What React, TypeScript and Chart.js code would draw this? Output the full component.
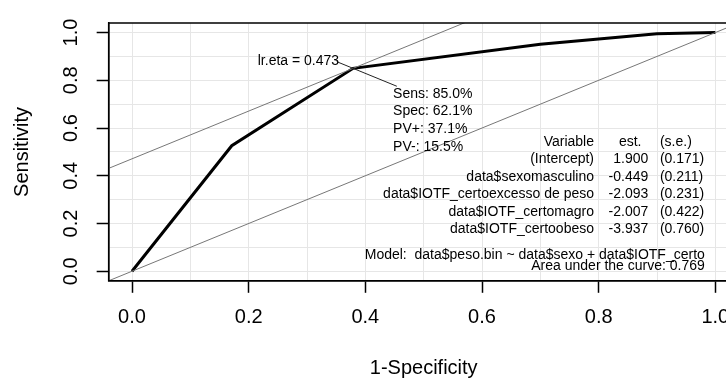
import React, { useEffect, useRef } from "react";
import { Chart, registerables } from "chart.js";

Chart.register(...registerables);

// ---- data ----
const rocFpr = [0, 0.171, 0.379, 0.7, 0.9, 1.0]; // 1-Specificity
const rocTpr = [0, 0.526, 0.85, 0.951, 0.995, 1.0]; // Sensitivity
const optSens = 0.85;
const optSpec = 0.621;
const optPVpos = 0.371;
const optPVneg = 0.155;
const lrEta = 0.473;
const auc = 0.769;
const variableNames = [
  "(Intercept)",
  "data$sexomasculino",
  "data$IOTF_certoexcesso de peso",
  "data$IOTF_certomagro",
  "data$IOTF_certoobeso",
];
const estimates = [1.9, -0.449, -2.093, -2.007, -3.937];
const stdErrors = [0.171, 0.211, 0.231, 0.422, 0.76];
const modelText = "Model:  data$peso.bin ~ data$sexo + data$IOTF_certo";
const xTitle = "1-Specificity";
const yTitle = "Sensitivity";
const axisMin = -0.04;
const axisMax = 1.04;

const FONT = "'Liberation Sans', Arial, Helvetica, sans-serif";

const annotPlugin = {
  id: "rocAnnot",
  afterDatasetsDraw(chart: any) {
    const { ctx, chartArea } = chart;
    const x = chart.scales.x;
    const y = chart.scales.y;
    const ox = 1 - optSpec;
    const px = x.getPixelForValue(ox);
    const py = y.getPixelForValue(optSens);
    ctx.save();
    // pointer line
    ctx.strokeStyle = "#222";
    ctx.lineWidth = 1;
    ctx.beginPath();
    ctx.moveTo(x.getPixelForValue(ox - 0.028), y.getPixelForValue(optSens + 0.028));
    ctx.lineTo(x.getPixelForValue(ox + 0.075), y.getPixelForValue(optSens - 0.075));
    ctx.stroke();

    ctx.font = `14px ${FONT}`;
    ctx.fillStyle = "#000";
    ctx.textBaseline = "middle";
    ctx.textAlign = "right";
    ctx.fillText(`lr.eta = ${lrEta.toFixed(3)}`, px - 14, py - 7.5);
    ctx.textAlign = "left";
    const optLines = [
      `Sens: ${(optSens * 100).toFixed(1)}%`,
      `Spec: ${(optSpec * 100).toFixed(1)}%`,
      `PV+: ${(optPVpos * 100).toFixed(1)}%`,
      `PV-: ${(optPVneg * 100).toFixed(1)}%`,
    ];
    optLines.forEach((t, i) => ctx.fillText(t, px + 40, py + 25.5 + i * 17.7));

    // coefficient table
    const varRight = x.getPixelForValue(0.792);
    const estRight = x.getPixelForValue(0.885);
    const estHead = x.getPixelForValue(0.854);
    const seLeft = x.getPixelForValue(0.905);
    const modelRight = x.getPixelForValue(0.982);
    const headY = y.getPixelForValue(0.542);
    const step = 17.5;
    ctx.textAlign = "right";
    ctx.fillText("Variable", varRight, headY);
    ctx.textAlign = "center";
    ctx.fillText("est.", estHead, headY);
    ctx.textAlign = "left";
    ctx.fillText("(s.e.)", seLeft, headY);
    variableNames.forEach((v, i) => {
      const ry = headY + (i + 1) * step;
      ctx.textAlign = "right";
      ctx.fillText(v, varRight, ry);
      ctx.fillText(estimates[i].toFixed(3), estRight, ry);
      ctx.textAlign = "left";
      ctx.fillText(`(${stdErrors[i].toFixed(3)})`, seLeft, ry);
    });
    ctx.textAlign = "right";
    ctx.fillText(modelText, modelRight, y.getPixelForValue(0.068));
    ctx.fillText(`Area under the curve: ${auc.toFixed(3)}`, modelRight, y.getPixelForValue(0.0195));

    // plot box
    ctx.strokeStyle = "#000";
    ctx.lineWidth = 1.5;
    ctx.strokeRect(chartArea.left, chartArea.top, chartArea.right - chartArea.left, chartArea.bottom - chartArea.top);
    ctx.restore();
  },
};

const isMajor = (v: number) => Math.round(v * 10) % 2 === 0;

export default function App() {
  const ref = useRef<HTMLCanvasElement | null>(null);
  useEffect(() => {
    if (!ref.current) return;
    const tangentIntercept = optSens - (1 - optSpec);
    const chart = new Chart(ref.current, {
      type: "line",
      data: {
        datasets: [
          {
            data: [
              { x: axisMin, y: axisMin },
              { x: axisMax, y: axisMax },
            ],
            borderColor: "#777",
            borderWidth: 1,
            pointRadius: 0,
          },
          {
            data: [
              { x: axisMin, y: axisMin + tangentIntercept },
              { x: axisMax, y: axisMax + tangentIntercept },
            ],
            borderColor: "#777",
            borderWidth: 1,
            pointRadius: 0,
          },
          {
            data: rocFpr.map((v, i) => ({ x: v, y: rocTpr[i] })),
            borderColor: "#000",
            borderWidth: 3,
            pointRadius: 0,
            tension: 0,
          },
        ],
      },
      options: {
        animation: false,
        responsive: false,
        parsing: true,
        layout: { padding: { left: 0, top: 15.2, right: 21.33, bottom: 0 } },
        plugins: { legend: { display: false }, tooltip: { enabled: false } },
        scales: {
          x: {
            type: "linear",
            min: axisMin,
            max: axisMax,
            afterFit: (s: any) => {
              s.height = 99.2;
            },
            ticks: {
              stepSize: 0.1,
              includeBounds: false,
              autoSkip: false,
              maxRotation: 0,
              minRotation: 0,
              padding: 13,
              color: "#000",
              font: { size: 20, family: FONT },
              callback: (v: any) => (isMajor(Number(v)) ? Number(v).toFixed(1) : ""),
            },
            grid: {
              color: "#e6e6e6",
              lineWidth: 1,
              tickLength: 12,
              tickWidth: 1.5,
              tickColor: (c: any) => (c.tick && isMajor(c.tick.value) ? "#000" : "rgba(0,0,0,0)"),
            },
            border: { display: true, color: "#000", width: 1.5 },
            title: {
              display: true,
              text: xTitle,
              color: "#000",
              font: { size: 20, family: FONT },
              padding: { top: 0, bottom: 0 },
            },
          },
          y: {
            type: "linear",
            min: axisMin,
            max: axisMax,
            afterFit: (s: any) => {
              s.width = 108.67;
            },
            ticks: {
              stepSize: 0.1,
              includeBounds: false,
              autoSkip: false,
              minRotation: 90,
              maxRotation: 90,
              crossAlign: "center",
              padding: 11,
              color: "#000",
              font: { size: 20, family: FONT },
              callback: (v: any) => (isMajor(Number(v)) ? Number(v).toFixed(1) : ""),
            },
            grid: {
              color: "#e6e6e6",
              lineWidth: 1,
              tickLength: 12,
              tickWidth: 1.5,
              tickColor: (c: any) => (c.tick && isMajor(c.tick.value) ? "#000" : "rgba(0,0,0,0)"),
            },
            border: { display: true, color: "#000", width: 1.5 },
            title: {
              display: true,
              text: yTitle,
              color: "#000",
              font: { size: 20, family: FONT },
              padding: { top: 10, bottom: 0 },
            },
          },
        },
      },
      plugins: [annotPlugin],
    } as any);
    return () => chart.destroy();
  }, []);
  return (
    <div
      style={{
        position: "absolute",
        left: 0,
        top: 0,
        width: 726,
        height: 380,
        overflow: "hidden",
        background: "#fff",
      }}
    >
      <canvas ref={ref} width={760} height={380} style={{ display: "block", width: 760, height: 380 }} />
    </div>
  );
}
